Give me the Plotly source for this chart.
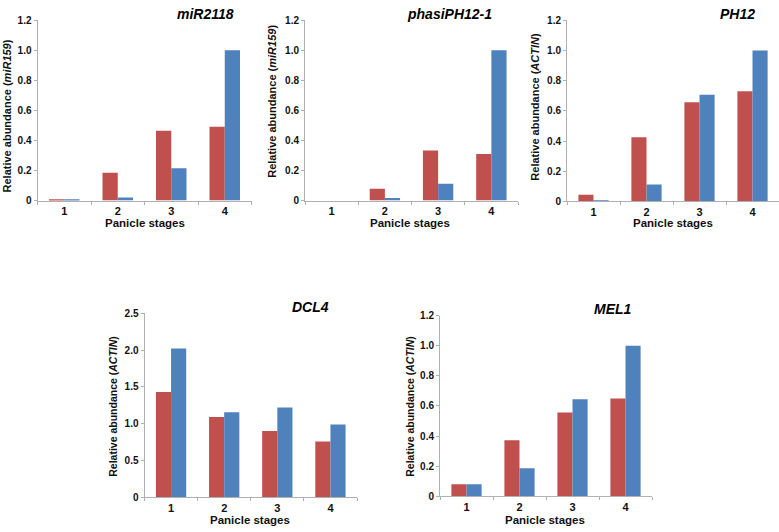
import plotly.graph_objects as go

W, H = 779, 532

stages = ["1", "2", "3", "4"]

panel_titles = ["miR2118", "phasiPH12-1", "PH12", "DCL4", "MEL1"]
ylabels = ["Relative abundance (<i>miR159</i>)", "Relative abundance (<i>miR159</i>)",
           "Relative abundance (<i>ACTIN</i>)", "Relative abundance (<i>ACTIN</i>)",
           "Relative abundance (<i>ACTIN</i>)"]
xlabel = "Panicle stages"

mir2118_red = [0.005, 0.185, 0.465, 0.49]
mir2118_blue = [0.005, 0.02, 0.215, 1.0]
phasi_red = [0.0, 0.078, 0.332, 0.31]
phasi_blue = [0.0, 0.016, 0.112, 1.0]
ph12_red = [0.044, 0.425, 0.656, 0.73]
ph12_blue = [0.006, 0.113, 0.706, 1.0]
dcl4_red = [1.43, 1.09, 0.9, 0.76]
dcl4_blue = [2.02, 1.155, 1.22, 0.99]
mel1_red = [0.08, 0.372, 0.557, 0.649]
mel1_blue = [0.08, 0.186, 0.645, 1.0]

reds = [mir2118_red, phasi_red, ph12_red, dcl4_red, mel1_red]
blues = [mir2118_blue, phasi_blue, ph12_blue, dcl4_blue, mel1_blue]

ytick_vals = [[0, 0.2, 0.4, 0.6, 0.8, 1.0, 1.2]] * 3 + [[0, 0.5, 1.0, 1.5, 2.0, 2.5], [0, 0.2, 0.4, 0.6, 0.8, 1.0, 1.2]]
ytick_text = [["0", "0.2", "0.4", "0.6", "0.8", "1.0", "1.2"]] * 3 + [["0", "0.5", "1.0", "1.5", "2.0", "2.5"], ["0", "0.2", "0.4", "0.6", "0.8", "1.0", "1.2"]]
yranges = [1.2, 1.2, 1.2, 2.5, 1.2]

# pixel layout (left, right, y0 bottom, ytop)
boxes = [
    (37.5, 251.5, 199.0, 14.5),
    (305.0, 518.0, 199.0, 14.5),
    (567.0, 779.0, 200.0, 14.5),
    (144.5, 357.0, 502.7, 314.3),
    (440.0, 652.0, 501.7, 316.7),
]
title_pos = [(205, 8), (449, 8), (737, 8), (310, 308), (613, 310)]
ylab_pos = [(7, 113), (272, 98), (535, 103), (113, 410), (410, 410)]
ylab_size = [11, 11, 11, 10.5, 10.5]
xlab_pos = [(145, 222), (410, 222), (673, 222), (250, 526), (545, 526)]

RED = "#c0504d"
BLUE = "#4f81bd"
AXC = "#b0b0b0"
FONT = "Liberation Sans, Arial, sans-serif"

fig = go.Figure()
layout = {}
annotations = []
for i in range(5):
    sfx = "" if i == 0 else str(i + 1)
    xa, ya = "x" + sfx, "y" + sfx
    fig.add_trace(go.Bar(x=stages, y=reds[i], marker_color=RED, xaxis=xa, yaxis=ya,
                         showlegend=False, offsetgroup="r", marker_line_width=0))
    fig.add_trace(go.Bar(x=stages, y=blues[i], marker_color=BLUE, xaxis=xa, yaxis=ya,
                         showlegend=False, offsetgroup="b", marker_line_width=0))
    l, r, yb, yt = boxes[i]
    layout["xaxis" + sfx] = dict(
        domain=[l / W, r / W], anchor=ya, type="category",
        showline=True, linecolor=AXC, linewidth=1, ticks="outside", tickson="boundaries",
        ticklen=3, tickcolor=AXC, showgrid=False, zeroline=False,
        tickfont=dict(family=FONT, size=11, color="#111", weight="bold"),
        fixedrange=True,
    )
    layout["yaxis" + sfx] = dict(
        domain=[1 - yb / H, 1 - yt / H], anchor=xa, range=[0, yranges[i]],
        tickvals=ytick_vals[i], ticktext=ytick_text[i],
        showline=True, linecolor=AXC, linewidth=1, ticks="outside", ticklen=3,
        tickcolor=AXC, showgrid=False, zeroline=False,
        tickfont=dict(family=FONT, size=10, color="#111", weight="bold"),
        fixedrange=True,
    )
    tx, ty = title_pos[i]
    annotations.append(dict(x=tx / W, y=1 - ty / H, xref="paper", yref="paper",
                            text="<b><i>%s</i></b>" % panel_titles[i], showarrow=False,
                            font=dict(family=FONT, size=14, color="#000"),
                            xanchor="center", yanchor="middle"))
    lx, ly = ylab_pos[i]
    annotations.append(dict(x=lx / W, y=1 - ly / H, xref="paper", yref="paper",
                            text="<b>%s</b>" % ylabels[i], showarrow=False, textangle=-90,
                            font=dict(family=FONT, size=ylab_size[i], color="#111"),
                            xanchor="center", yanchor="middle"))
    px, py = xlab_pos[i]
    annotations.append(dict(x=px / W, y=1 - py / H, xref="paper", yref="paper",
                            text="<b>%s</b>" % xlabel, showarrow=False,
                            font=dict(family=FONT, size=11.5, color="#111"),
                            xanchor="center", yanchor="middle"))

fig.update_layout(
    width=W, height=H, margin=dict(l=0, r=0, t=0, b=0),
    paper_bgcolor="white", plot_bgcolor="white",
    barmode="group", bargap=0.43, bargroupgap=0,
    annotations=annotations, showlegend=False,
    **layout,
)
fig.write_html("out.html", config={"displayModeBar": False},
               post_script="document.body.style.margin='0px';document.body.style.padding='0px';")
